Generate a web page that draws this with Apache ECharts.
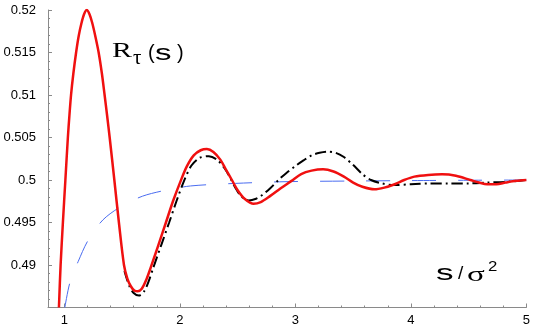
<!DOCTYPE html>
<html><head><meta charset="utf-8">
<script src="https://cdn.jsdelivr.net/npm/echarts@6/dist/echarts.min.js"></script>
<style>html,body{margin:0;padding:0;background:#fff}#c{width:533px;height:330px}</style>
</head><body><div id="c"></div>
<script>
// ---- data ----
const redPts = [[0.9526,0.4850],[0.9672,0.4900],[0.9870,0.4950],[1.0085,0.5000],[1.0300,0.5050],[1.0429,0.5075],[1.0575,0.5100],[1.0773,0.5125],[1.1013,0.5150],[1.1246,0.5170],[1.1486,0.5185],[1.1701,0.5195],[1.1933,0.5200],[1.2174,0.5195],[1.2406,0.5185],[1.2664,0.5170],[1.2965,0.5150],[1.3249,0.5125],[1.3481,0.5100],[1.3705,0.5075],[1.392,0.5050],[1.4324,0.5000],[1.4719,0.4950],[1.5158,0.4900],[1.545,0.4884],[1.575,0.4875],[1.605,0.4870],[1.634,0.4869],[1.67,0.4872],[1.71,0.4883],[1.75,0.4898],[1.81,0.4922],[1.879,0.4950],[1.94,0.4975],[2.007,0.4999],[2.06,0.5016],[2.12,0.5029],[2.18,0.5035],[2.234,0.50365],[2.29,0.5033],[2.35,0.5024],[2.40,0.5012],[2.45,0.5000],[2.50,0.4988],[2.56,0.4978],[2.638,0.4972],[2.70,0.4974],[2.78,0.4981],[2.87,0.4990],[2.967,0.4999],[3.05,0.5007],[3.14,0.5011],[3.24,0.50126],[3.33,0.5010],[3.42,0.5004],[3.50,0.4997],[3.58,0.4992],[3.684,0.4989],[3.77,0.4991],[3.86,0.4995],[3.942,0.5000],[4.03,0.5004],[4.15,0.5006],[4.27,0.50067],[4.39,0.5005],[4.515,0.5000],[4.59,0.4997],[4.66,0.4995],[4.74,0.4995],[4.82,0.4997],[4.91,0.4999],[5.0,0.5000]];
const blackPts = [[1.52,0.4893],[1.56,0.4876],[1.60,0.4867],[1.645,0.4864],[1.69,0.4869],[1.73,0.4881],[1.77,0.4897],[1.84,0.4924],[1.907,0.4950],[1.97,0.4975],[2.036,0.4999],[2.10,0.5017],[2.17,0.5026],[2.251,0.5028],[2.32,0.5024],[2.38,0.5015],[2.43,0.5004],[2.48,0.4991],[2.523,0.4982],[2.595,0.4976],[2.66,0.4978],[2.71,0.4982],[2.78,0.4990],[2.853,0.5000],[2.92,0.5008],[2.996,0.5016],[3.07,0.5023],[3.14,0.5029],[3.21,0.5032],[3.283,0.50333],[3.35,0.5032],[3.42,0.5027],[3.498,0.5018],[3.58,0.5007],[3.655,0.5000],[3.75,0.4996],[3.856,0.4994],[4.0,0.4995],[4.16,0.4996],[4.32,0.4996],[4.5,0.4996],[4.66,0.4997],[4.85,0.4998],[5.0,0.5000]];
const bluePts = [[1.004,0.485],[1.047,0.4879],[1.119,0.4904],[1.205,0.4929],[1.333,0.4953],[1.492,0.4969],[1.677,0.4981],[1.878,0.4988],[2.093,0.4993],[2.48,0.4996],[2.91,0.4998],[3.5,0.49988],[4.0,0.49993],[4.5,0.49997],[5.0,0.5000]];
const xTicks = [1,2,3,4,5];
const xMinorTicks = [1.2,1.4,1.6,1.8,2.2,2.4,2.6,2.8,3.2,3.4,3.6,3.8,4.2,4.4,4.6,4.8];
const xRange = [0.858, 5];
const yRange = [0.485, 0.52];
const yStep = 0.005;

const chart = echarts.init(document.getElementById('c'));
const axisGray = '#8a8a8a';
const labelFont = {color:'#000', fontSize:13, fontFamily:'Liberation Sans'};
function glyph(x, y, t, font, sx) {
  return {type:'text', x:x, y:y, scaleX:sx||1, z:100,
    style:{text:t, font:font, fill:'#000', textAlign:'left', textVerticalAlign:'middle'}};
}
chart.setOption({
  animation:false,
  grid:{left:48, right:4, top:10, bottom:22.5},
  xAxis:[{
    type:'value', min:xRange[0], max:xRange[1],
    axisLine:{lineStyle:{color:axisGray, width:1}},
    axisTick:{inside:true, length:4, customValues:xTicks, lineStyle:{color:axisGray}},
    axisLabel:Object.assign({customValues:xTicks, margin:6}, labelFont),
    splitLine:{show:false}
  },{
    type:'value', min:xRange[0], max:xRange[1], position:'bottom',
    axisLine:{show:false},
    axisTick:{inside:true, length:2, customValues:xMinorTicks, lineStyle:{color:axisGray}},
    axisLabel:{show:false},
    splitLine:{show:false}
  }],
  yAxis:{
    type:'value', min:yRange[0], max:yRange[1], interval:yStep,
    axisLine:{show:true, lineStyle:{color:axisGray, width:1}},
    axisTick:{show:true, inside:true, length:4, lineStyle:{color:axisGray}},
    minorTick:{show:true, splitNumber:5, length:2, lineStyle:{color:axisGray}},
    axisLabel:Object.assign({showMinLabel:false, margin:12}, labelFont),
    splitLine:{show:false}
  },
  series:[
    {type:'line', data:bluePts, showSymbol:false, smooth:0.3, z:1,
      lineStyle:{color:'#4a6cf0', width:1, type:[24,22]}},
    {type:'line', data:blackPts, showSymbol:false, smooth:0.3, z:2,
      lineStyle:{color:'#000', width:2, type:[11,4,2,4]}},
    {type:'line', data:redPts, showSymbol:false, smooth:0.3, z:3,
      lineStyle:{color:'#f01010', width:2.5}}
  ],
  graphic:[
    glyph(112, 51, 'R', '22px "Liberation Serif"', 1.36),
    glyph(133, 59, 'τ', '20px "Liberation Serif"', 1.05),
    glyph(148, 53, '(', '20px "Liberation Sans"', 1),
    glyph(155, 54, 's', '22px "Liberation Sans"', 1.5),
    glyph(177, 53, ')', '20px "Liberation Sans"', 1),
    glyph(436, 274, 's', '22px "Liberation Sans"', 1.6),
    glyph(458, 273.5, '/', '19px "Liberation Sans"', 1),
    glyph(467, 275, 'σ', '22px "Liberation Serif"', 1.5),
    glyph(488, 267, '2', '14px "Liberation Sans"', 1.2)
  ]
});
</script></body></html>
